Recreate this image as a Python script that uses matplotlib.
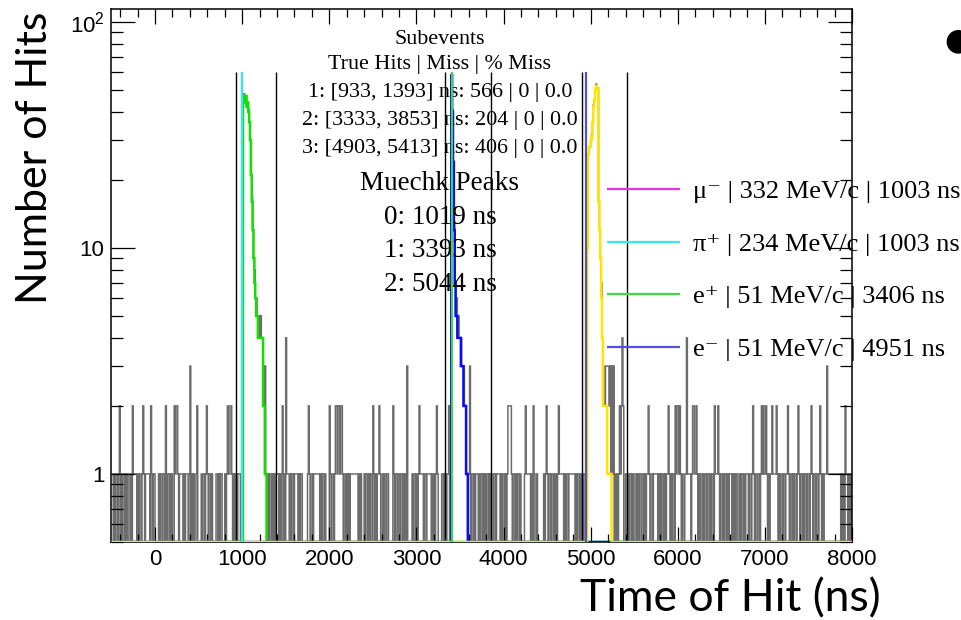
import numpy as np
import matplotlib.pyplot as plt
from matplotlib.ticker import MultipleLocator, LogLocator, FixedLocator, FixedFormatter, NullFormatter

# binning of the hit-time histogram (ns)
bin_edges = np.arange(-500, 8001, 10)

# background hits per 10 ns bin, one string per 500 ns
noise_rows = [
    "1101011012" "0101101011" "0010211110" "1011012101" "1111021011",  # -500..0
    "0000101101" "1020110101" "0021221011" "1101011101" "3010100120",  # 0..500
    "0001011012" "1011010000" "1101011000" "1012112210" "1011011100",  # 500..1000
    "1010010100" "0100101001" "0100102010" "1011010101" "1101012010",  # 1000..1500
    "4111010110" "1111010110" "0000012101" "1011111110" "1011010000",  # 1500..2000
    "2101101221" "2212210110" "1010111111" "1110101000" "1011010110",  # 2000..2500
    "2101011210" "0101101100" "0002101101" "1011010103" "0000010110",  # 2500..3000
    "1012111101" "1011111010" "1012100001" "1011011200" "0101001010",  # 3000..3500
    "0100100001" "1301101011" "1010110101" "0110101101" "1011110101",  # 3500..4000
    "1010122221" "0110101101" "0000121111" "1010210010" "0000001012",  # 4000..4500
    "1011011010" "1012111110" "1011011111" "1101011010" "1011010000",  # 4500..5000
    "0101001010" "0010100112" "2120313010" "1012124200" "1101011010",  # 5000..5500
    "0110101101" "1010112101" "1011111010" "1011010112" "1010110212",  # 5500..6000
    "2121010011" "4111101221" "1210101101" "0110110101" "1021112101",  # 6000..6500
    "1010110101" "1101010110" "0101101011" "1011012101" "1011012121",  # 6500..7000
    "1210101121" "1112101011" "0110112101" "1010110121" "0110101101",  # 7000..7500
    "1012101101" "1012101011" "1311111111" "1111111010" "1021101010",  # 7500..8000
]

# true hits of each subevent, 10 ns bins starting at the given time
sub1_start = 1010
sub1_counts = [44, 47, 45, 47, 42, 44, 40, 36, 30, 21, 16, 12, 9, 7, 6, 5, 5,
               4, 4, 4, 4, 4, 4, 2, 2, 1, 1]
sub2_start = 3400
sub2_counts = [58, 40, 24, 12, 7, 5, 5, 4, 4, 4, 4, 3, 3, 3, 2, 2, 2, 1, 1]
sub3_start = 4960
sub3_counts = [10, 26, 28, 28, 30, 31, 36, 42, 45, 50, 52, 51, 50, 16, 12, 9,
               6, 4, 2, 2, 2, 2, 2, 1, 1, 1, 1, 1]

window_edges = [933, 1393, 3333, 3853, 4903, 5413]

particle_times = [1003, 1003, 3406, 4951]
particle_labels = ["\u03bc\u207b | 332 MeV/c | 1003 ns",
                   "\u03c0\u207a | 234 MeV/c | 1003 ns",
                   "e\u207a | 51 MeV/c | 3406 ns",
                   "e\u207b | 51 MeV/c | 4951 ns"]
particle_colors = ["#e633e6", "#33e8f0", "#44d844", "#5050d8"]

subevent_lines = ["Subevents",
                  "True Hits | Miss | % Miss",
                  "1: [933, 1393] ns: 566 | 0 | 0.0",
                  "2: [3333, 3853] ns: 204 | 0 | 0.0",
                  "3: [4903, 5413] ns: 406 | 0 | 0.0"]
peak_lines = ["Muechk Peaks", "0: 1019 ns", "1: 3393 ns", "2: 5044 ns"]


def fill(start, counts):
    h = np.zeros(len(bin_edges) - 1)
    i0 = (start - bin_edges[0]) // 10
    h[i0:i0 + len(counts)] = counts
    return h


noise = np.array([int(c) for c in "".join(noise_rows)], dtype=float)
sub1 = fill(sub1_start, sub1_counts)
sub2 = fill(sub2_start, sub2_counts)
sub3 = fill(sub3_start, sub3_counts)
total = noise + sub1 + sub2 + sub3

ymin, ymax = 0.5, 114
line_top = 60

fig = plt.figure(figsize=(9.61, 6.2), dpi=100)
ax = fig.add_axes([0.1160, 0.1258, 0.7706, 0.8597])
ax.set_yscale("log")

ax.stairs(np.maximum(total, ymin), bin_edges, baseline=None,
          color="#6c6c6c", lw=1.1, zorder=1)
ax.vlines(window_edges, ymin, line_top, colors="black", lw=1.0, zorder=2)
for h, c in [(sub1, "#14e000"), (sub2, "#0a0aff"), (sub3, "#ffe400")]:
    ax.stairs(np.maximum(h, ymin), bin_edges, baseline=None,
              color=c, lw=1.8, zorder=3)
for t, lab, c in zip(particle_times, particle_labels, particle_colors):
    ax.vlines(t, ymin, line_top, colors=c, lw=1.6, label=lab, zorder=4)

ax.set_xlim(-500, 8000)
ax.set_ylim(ymin, ymax)

# ticks (ROOT style: inside, on all four sides)
ax.xaxis.set_major_locator(MultipleLocator(1000))
ax.xaxis.set_minor_locator(MultipleLocator(200))
ax.yaxis.set_major_locator(FixedLocator([1, 10, 100]))
ax.yaxis.set_major_formatter(FixedFormatter(["1", "10", r"$\mathdefault{10^{2}}$"]))
ax.yaxis.set_minor_locator(LogLocator(base=10, subs=np.arange(2, 10)))
ax.yaxis.set_minor_formatter(NullFormatter())
ax.tick_params(which="both", direction="in", top=True, right=True, width=0.9,
               labelsize=16, labelfontfamily="Liberation Sans")
ax.tick_params(axis="x", which="major", length=11, pad=5)
ax.tick_params(axis="x", which="minor", length=5.5)
ax.tick_params(axis="y", which="major", length=17, pad=5)
ax.tick_params(axis="y", which="minor", length=8.5)
for s in ax.spines.values():
    s.set_linewidth(1.1)

ax.set_xlabel("Time of Hit (ns)", fontsize=32, family="Lato", va="center")
ax.xaxis.set_label_coords(0.835, -0.106)
ax.set_ylabel("Number of Hits", fontsize=31, family="Lato", va="center")
ax.yaxis.set_label_coords(-0.103, 0.72)

serif = ["Liberation Serif", "DejaVu Serif"]
for txt, y in zip(subevent_lines, [40, 65, 93, 121, 149]):
    ax.text(0.4436, (542 - y) / 533, txt, transform=ax.transAxes, ha="center",
            va="center", fontsize=15.8, family=serif)
for txt, y in zip(peak_lines, [184, 218, 251, 285]):
    ax.text(0.4436, (542 - y) / 533, txt, transform=ax.transAxes, ha="center",
            va="center", fontsize=19.5, family=serif)

ax.legend(loc="upper left", bbox_to_anchor=(607 / 961, 1 - 180 / 620),
          bbox_transform=fig.transFigure, frameon=False, borderpad=0,
          borderaxespad=0, handlelength=2.75, handletextpad=0.5,
          labelspacing=1.1, prop={"family": serif, "size": 19})

# bullet of the slide, cut by the right edge
fig.text(958 / 961, 1 - 41 / 620, "\u25cf", ha="center", va="center", fontsize=22)

fig.savefig("out.png", dpi=100)
